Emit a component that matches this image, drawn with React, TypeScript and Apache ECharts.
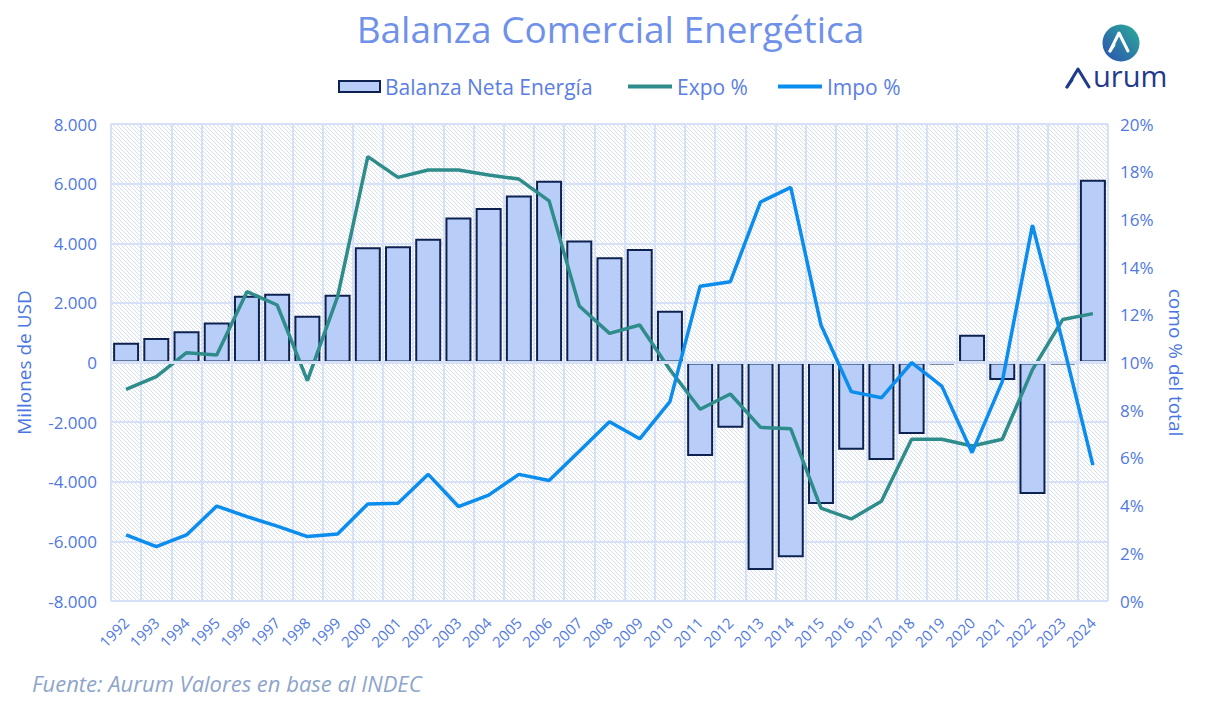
import React, { useEffect, useRef } from "react";
import * as echarts from "echarts";

const years = [
  "1992", "1993", "1994", "1995", "1996", "1997", "1998", "1999", "2000", "2001", "2002",
  "2003", "2004", "2005", "2006", "2007", "2008", "2009", "2010", "2011", "2012", "2013",
  "2014", "2015", "2016", "2017", "2018", "2019", "2020", "2021", "2022", "2023", "2024",
];

// Balanza Neta Energía (millones de USD)
const balanza = [
  665, 820, 1045, 1345, 2240, 2310, 1570, 2275, 3865, 3900, 4155,
  4860, 5185, 5600, 6100, 4090, 3530, 3810, 1740, -3140, -2190, -6960,
  -6530, -4750, -2925, -3270, -2400, -60, 930, -590, -4410, -60, 6130,
];

// Expo % (como % del total)
const expo = [
  8.87, 9.41, 10.41, 10.31, 12.97, 12.41, 9.24, 12.76, 18.63, 17.76, 18.07,
  18.07, 17.86, 17.69, 16.78, 12.37, 11.22, 11.57, 9.7, 8.04, 8.68, 7.28,
  7.22, 3.89, 3.44, 4.18, 6.78, 6.78, 6.5, 6.78, 9.7, 11.8, 12.05,
];

// Impo % (como % del total)
const impo = [
  2.77, 2.28, 2.77, 3.98, 3.54, 3.14, 2.7, 2.81, 4.07, 4.1, 5.31,
  3.96, 4.44, 5.31, 5.05, 6.28, 7.52, 6.8, 8.36, 13.2, 13.39, 16.73,
  17.34, 11.57, 8.78, 8.52, 9.99, 9.01, 6.22, 9.2, 15.76, 10.85, 5.7,
];

const FONT = "Open Sans";
const AXIS_COLOR = "#4F78E3";
const GRID_COLOR = "#D6E0F6";
const EXPO_COLOR = "#2E8C8A";
const IMPO_COLOR = "#0B8DED";

function fmtThousands(v: number): string {
  const s = Math.abs(v).toString().replace(/\B(?=(\d{3})+(?!\d))/g, ".");
  return (v < 0 ? "-" : "") + s;
}

const hatchSvg =
  "<svg xmlns='http://www.w3.org/2000/svg' width='4' height='4'>" +
  "<rect width='4' height='4' fill='#FFFFFF'/>" +
  "<path d='M-1,-1L5,5M-1,3L1,5M3,-1L5,1' stroke='#D6DEF2' stroke-width='1'/></svg>";
const hatchUrl = "data:image/svg+xml;charset=utf-8," + encodeURIComponent(hatchSvg);

export default function App() {
  const ref = useRef<HTMLDivElement>(null);

  useEffect(() => {
    const chart = echarts.init(ref.current!, null, { renderer: "svg" });

    const option: any = {
      animation: false,
      backgroundColor: "#FFFFFF",
      title: {
        text: "Balanza Comercial Energética",
        left: "center",
        top: 5,
        textStyle: {
          fontFamily: FONT,
          fontSize: 37,
          fontWeight: "normal",
          color: "#7091EA",
        },
      },
      legend: [
        {
          top: 71,
          left: 333,
          itemWidth: 41,
          itemHeight: 11,
          textStyle: { fontFamily: FONT, fontSize: 21, color: "#5A7EE3" },
          data: [{ name: "Balanza Neta Energía", icon: "rect" }],
        },
        {
          top: 71,
          left: 623,
          itemGap: 30,
          itemWidth: 44,
          itemHeight: 4,
          icon: "rect",
          textStyle: { fontFamily: FONT, fontSize: 21, color: "#5A7EE3" },
          data: ["Expo %", "Impo %"],
        },
      ],
      grid: {
        left: 111,
        right: 113,
        top: 124,
        bottom: 118,
        show: true,
        borderWidth: 0,
        backgroundColor: {
          image: hatchUrl,
          repeat: "repeat",
          imageWidth: 4,
          imageHeight: 4,
        },
      },
      xAxis: {
        type: "category",
        data: years,
        boundaryGap: true,
        axisLine: { show: false },
        axisTick: { show: false },
        splitLine: { show: true, lineStyle: { color: GRID_COLOR, width: 2 } },
        axisLabel: {
          rotate: 45,
          interval: 0,
          margin: 19,
          fontFamily: FONT,
          fontSize: 15,
          color: AXIS_COLOR,
        },
      },
      yAxis: [
        {
          type: "value",
          min: -8000,
          max: 8000,
          interval: 2000,
          name: "Millones de USD",
          nameLocation: "middle",
          nameGap: 78,
          nameTextStyle: { fontFamily: FONT, fontSize: 19, color: "#4A76E2" },
          axisLine: { show: false },
          axisTick: { show: false },
          splitLine: { show: true, lineStyle: { color: GRID_COLOR, width: 2 } },
          axisLabel: {
            fontFamily: FONT,
            fontSize: 17,
            color: AXIS_COLOR,
            margin: 14,
            formatter: (v: number) => fmtThousands(v),
          },
        },
        {
          type: "value",
          min: 0,
          max: 20,
          interval: 2,
          position: "right",
          name: "como % del total",
          nameLocation: "middle",
          nameRotate: -90,
          nameGap: 58,
          nameTextStyle: { fontFamily: FONT, fontSize: 19, color: "#4A76E2" },
          axisLine: { show: false },
          axisTick: { show: false },
          splitLine: { show: false },
          axisLabel: {
            fontFamily: FONT,
            fontSize: 17,
            color: AXIS_COLOR,
            margin: 12,
            formatter: "{value}%",
          },
        },
      ],
      series: [
        {
          name: "Balanza Neta Energía",
          type: "bar",
          data: balanza,
          yAxisIndex: 0,
          barCategoryGap: "14%",
          itemStyle: { color: "#B8CEF9", borderColor: "#0D2250", borderWidth: 2 },
          markLine: {
            silent: true,
            symbol: "none",
            label: { show: false },
            lineStyle: { color: GRID_COLOR, width: 3, type: "solid" },
            data: [{ yAxis: 0 }],
          },
        },
        {
          name: "Expo %",
          type: "line",
          data: expo,
          yAxisIndex: 1,
          symbol: "none",
          lineStyle: { color: EXPO_COLOR, width: 3.5 },
          itemStyle: { color: EXPO_COLOR },
          z: 4,
        },
        {
          name: "Impo %",
          type: "line",
          data: impo,
          yAxisIndex: 1,
          symbol: "none",
          lineStyle: { color: IMPO_COLOR, width: 3.5 },
          itemStyle: { color: IMPO_COLOR },
          z: 5,
        },
      ],
      graphic: [
        {
          type: "text",
          left: 32,
          top: 672,
          style: {
            text: "Fuente: Aurum Valores en base al INDEC",
            fontFamily: FONT,
            fontSize: 22,
            fontStyle: "italic",
            fill: "#8DA5CB",
          },
        },
        {
          type: "circle",
          shape: { cx: 1121, cy: 43, r: 18.5 },
          style: {
            fill: new echarts.graphic.LinearGradient(1, 0, 0, 1, [
              { offset: 0, color: "#2BAE97" },
              { offset: 1, color: "#2C4FB2" },
            ]),
          },
        },
        {
          type: "polyline",
          shape: { points: [[1110, 51], [1119, 33], [1128, 51]] },
          style: { stroke: "#FFFFFF", lineWidth: 3, fill: "none", lineJoin: "round", lineCap: "round" },
        },
        {
          type: "polyline",
          shape: { points: [[1110, 51], [1114, 45]] },
          style: { stroke: "#FFFFFF", lineWidth: 3, fill: "none", lineCap: "round" },
        },
        {
          type: "polyline",
          shape: { points: [[1067, 87], [1078, 69], [1089, 87]] },
          style: { stroke: "#1F3A8C", lineWidth: 3, fill: "none", lineJoin: "round", lineCap: "round" },
        },
        {
          type: "polyline",
          shape: { points: [[1067, 87], [1072, 80]] },
          style: { stroke: "#1F3A8C", lineWidth: 3, fill: "none", lineCap: "round" },
        },
        {
          type: "text",
          left: 1093,
          top: 61,
          style: {
            text: "urum",
            fontFamily: FONT,
            fontSize: 29,
            fill: "#1F3A8C",
          },
        },
      ],
    };

    chart.setOption(option);
    return () => chart.dispose();
  }, []);

  return (
    <div
      ref={ref}
      style={{ position: "absolute", left: 0, top: 0, width: 1221, height: 719 }}
    />
  );
}
